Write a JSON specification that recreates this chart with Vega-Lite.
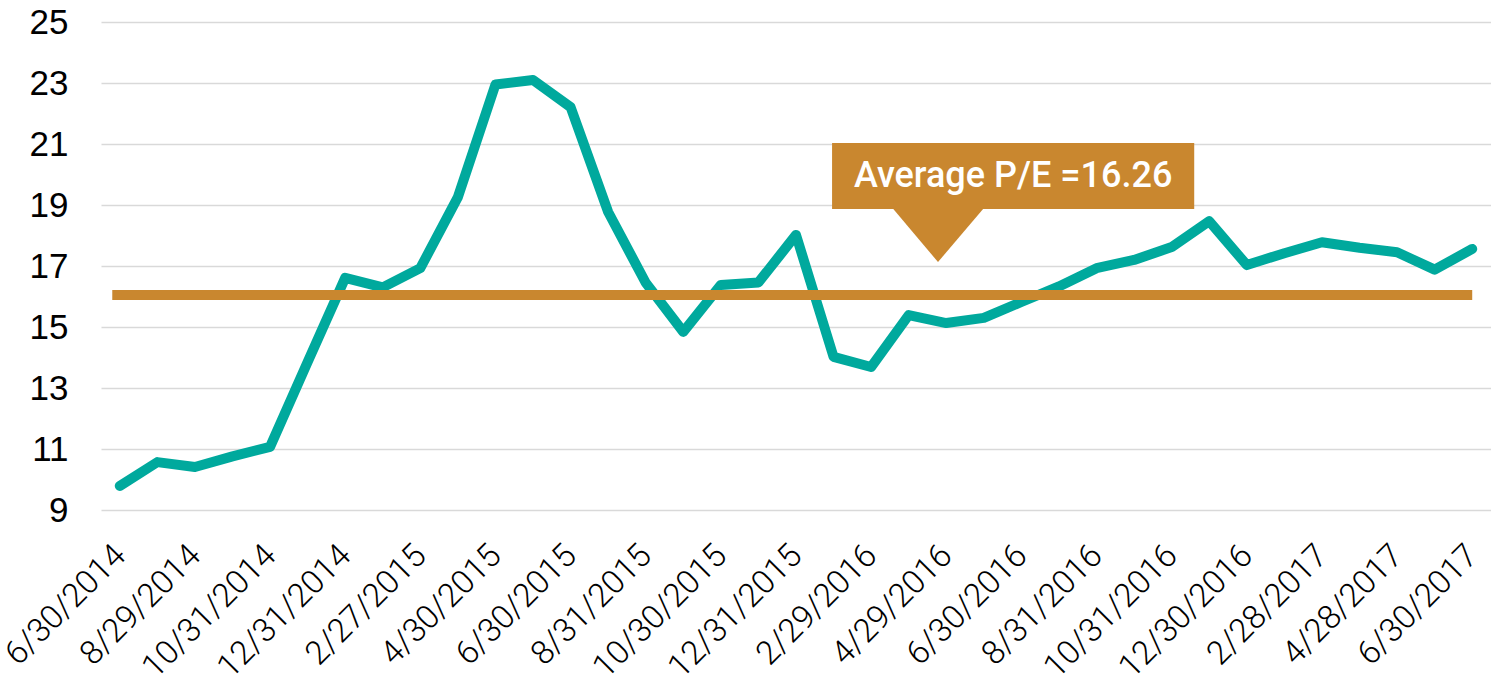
{
  "$schema": "https://vega.github.io/schema/vega-lite/v6.json",
  "autosize": {"type": "none"},
  "width": 1390,
  "height": 488,
  "padding": {"left": 101, "top": 22, "right": 0, "bottom": 169},
  "background": "white",
  "config": {"view": {"stroke": null}},
  "datasets": {
    "pe": [
      {"idx": 0, "date": "6/30/2014", "pe": 9.79},
      {"idx": 1, "date": "7/31/2014", "pe": 10.57},
      {"idx": 2, "date": "8/29/2014", "pe": 10.41},
      {"idx": 3, "date": "9/30/2014", "pe": 10.76},
      {"idx": 4, "date": "10/31/2014", "pe": 11.07},
      {"idx": 5, "date": "11/28/2014", "pe": 13.85},
      {"idx": 6, "date": "12/31/2014", "pe": 16.61},
      {"idx": 7, "date": "1/30/2015", "pe": 16.3},
      {"idx": 8, "date": "2/27/2015", "pe": 16.93},
      {"idx": 9, "date": "3/31/2015", "pe": 19.26},
      {"idx": 10, "date": "4/30/2015", "pe": 22.95},
      {"idx": 11, "date": "5/29/2015", "pe": 23.1},
      {"idx": 12, "date": "6/30/2015", "pe": 22.21},
      {"idx": 13, "date": "7/31/2015", "pe": 18.77},
      {"idx": 14, "date": "8/31/2015", "pe": 16.45},
      {"idx": 15, "date": "9/30/2015", "pe": 14.84},
      {"idx": 16, "date": "10/30/2015", "pe": 16.38},
      {"idx": 17, "date": "11/30/2015", "pe": 16.46},
      {"idx": 18, "date": "12/31/2015", "pe": 18.02},
      {"idx": 19, "date": "1/29/2016", "pe": 14.02},
      {"idx": 20, "date": "2/29/2016", "pe": 13.69},
      {"idx": 21, "date": "3/31/2016", "pe": 15.39},
      {"idx": 22, "date": "4/29/2016", "pe": 15.13},
      {"idx": 23, "date": "5/31/2016", "pe": 15.3},
      {"idx": 24, "date": "6/30/2016", "pe": 15.82},
      {"idx": 25, "date": "7/29/2016", "pe": 16.33},
      {"idx": 26, "date": "8/31/2016", "pe": 16.93},
      {"idx": 27, "date": "9/30/2016", "pe": 17.2},
      {"idx": 28, "date": "10/31/2016", "pe": 17.62},
      {"idx": 29, "date": "11/30/2016", "pe": 18.47},
      {"idx": 30, "date": "12/30/2016", "pe": 17.03},
      {"idx": 31, "date": "1/31/2017", "pe": 17.42},
      {"idx": 32, "date": "2/28/2017", "pe": 17.78},
      {"idx": 33, "date": "3/31/2017", "pe": 17.6},
      {"idx": 34, "date": "4/28/2017", "pe": 17.45},
      {"idx": 35, "date": "5/31/2017", "pe": 16.88},
      {"idx": 36, "date": "6/30/2017", "pe": 17.56}
    ],
    "avg": [{"x": -0.2, "x2": 36, "y": 16.05}],
    "box": [{"x": 18.96, "x2": 28.6, "y": 21.03, "y2": 18.87, "xt": 23.78, "yt": 19.95, "label": "Average P/E =16.26"}],
    "tri": [
      {"x": 20.59, "y": 18.87, "y2": 19.2},
      {"x": 21.78, "y": 17.13, "y2": 19.2},
      {"x": 22.98, "y": 18.87, "y2": 19.2}
    ]
  },
  "layer": [
    {
      "data": {"name": "pe"},
      "mark": {"type": "line", "color": "#00A99D", "strokeWidth": 10, "strokeCap": "round", "strokeJoin": "round"},
      "encoding": {
        "x": {
          "field": "idx", "type": "quantitative",
          "scale": {"domain": [-0.5, 36.5], "nice": false, "zero": false},
          "axis": {
            "title": null, "grid": false, "domain": false, "ticks": false,
            "values": [0, 2, 4, 6, 8, 10, 12, 14, 16, 18, 20, 22, 24, 26, 28, 30, 32, 34, 36],
            "labelExpr": "['6/30/2014','8/29/2014','10/31/2014','12/31/2014','2/27/2015','4/30/2015','6/30/2015','8/31/2015','10/30/2015','12/31/2015','2/29/2016','4/29/2016','6/30/2016','8/31/2016','10/31/2016','12/30/2016','2/28/2017','4/28/2017','6/30/2017'][round(datum.value/2)]",
            "labelAngle": -45, "labelAlign": "right", "labelBaseline": "middle",
            "labelPadding": 40, "labelFont": "Roboto", "labelFontWeight": 300,
            "labelFontSize": 33, "labelColor": "#000000", "labelOverlap": false,
            "labelFlush": false, "labelBound": false
          }
        },
        "y": {
          "field": "pe", "type": "quantitative",
          "scale": {"domain": [9, 25], "nice": false, "zero": false},
          "axis": {
            "title": null, "domain": false, "ticks": false,
            "values": [9, 11, 13, 15, 17, 19, 21, 23, 25],
            "gridColor": "#D9D9D9", "gridWidth": 1.5,
            "labelFont": "Liberation Sans", "labelFontSize": 35, "labelColor": "#000000",
            "labelPadding": 33, "labelBaseline": "middle"
          }
        },
        "order": {"field": "idx"}
      }
    },
    {
      "data": {"name": "avg"},
      "mark": {"type": "rule", "color": "#C9872F", "strokeWidth": 10, "strokeCap": "butt"},
      "encoding": {
        "x": {"field": "x", "type": "quantitative"},
        "x2": {"field": "x2"},
        "y": {"field": "y", "type": "quantitative"}
      }
    },
    {
      "data": {"name": "box"},
      "mark": {"type": "rect", "color": "#C9872F"},
      "encoding": {
        "x": {"field": "x", "type": "quantitative"},
        "x2": {"field": "x2"},
        "y": {"field": "y", "type": "quantitative"},
        "y2": {"field": "y2"}
      }
    },
    {
      "data": {"name": "tri"},
      "mark": {"type": "area", "color": "#C9872F", "opacity": 1},
      "encoding": {
        "x": {"field": "x", "type": "quantitative"},
        "y": {"field": "y", "type": "quantitative"},
        "y2": {"field": "y2"}
      }
    },
    {
      "data": {"name": "box"},
      "mark": {"type": "text", "color": "#FFFFFF", "font": "Roboto", "fontWeight": 500, "fontSize": 36, "align": "center", "baseline": "middle"},
      "encoding": {
        "x": {"field": "xt", "type": "quantitative"},
        "y": {"field": "yt", "type": "quantitative"},
        "text": {"field": "label"}
      }
    }
  ]
}
